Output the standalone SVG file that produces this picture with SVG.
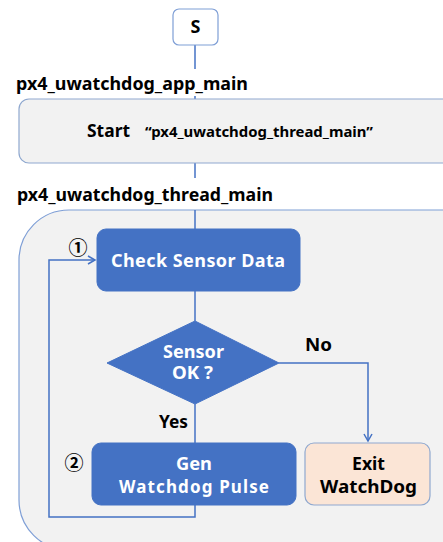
<svg xmlns="http://www.w3.org/2000/svg" width="443" height="542" viewBox="0 0 443 542">
<style>
.t{font-family:"Noto Sans","Noto Sans CJK KR",sans-serif;font-weight:bold;}
.c{font-family:"Noto Sans CJK KR",sans-serif;font-weight:bold;}
.blk{fill:#000;}
.wht{fill:#fff;}
.ln{fill:none;stroke:#4472c4;stroke-width:1.5;}
.blue{fill:#4472c4;stroke:#4472c4;}
</style>
<defs>
<marker id="ar" markerWidth="10" markerHeight="10" refX="8" refY="5" orient="auto" markerUnits="userSpaceOnUse">
<path d="M1,1 L8,5 L1,9" fill="none" stroke="#4472c4" stroke-width="1.5"/>
</marker>
</defs>
<rect width="443" height="542" fill="#fff"/>
<g id="container">
<rect x="19" y="210" width="480" height="340" rx="50" ry="50" fill="#f2f2f2" stroke="#7f9fd6" stroke-width="1.2"/>
</g>
<g id="connectors">
<line class="ln" x1="195" y1="45" x2="195" y2="69"/>
<line class="ln" x1="195" y1="96" x2="195" y2="99"/>
<line class="ln" x1="195" y1="163" x2="195" y2="178"/>
<line class="ln" x1="195" y1="210" x2="195" y2="229"/>
<line class="ln" x1="195" y1="291" x2="195" y2="321"/>
<line class="ln" x1="195" y1="404" x2="195" y2="443"/>
<polyline class="ln" points="279,363 368,363 368,441" marker-end="url(#ar)"/>
<polyline class="ln" points="195,505 195,517 49,517 49,260 95,260" marker-end="url(#ar)"/>
</g>
<g id="node-s">
<rect x="173" y="9" width="45" height="36" rx="6" fill="#fff" stroke="#7f9fd6" stroke-width="1.2"/>
<text class="t blk" x="195.5" y="33" font-size="18" text-anchor="middle">S</text>
</g>
<text class="t blk" x="16" y="90" font-size="18" textLength="232" lengthAdjust="spacingAndGlyphs">px4_uwatchdog_app_main</text>
<g id="node-start">
<rect x="19" y="99" width="480" height="64" rx="10" fill="#f2f2f2" stroke="#8fa8cf" stroke-width="1.2"/>
<text class="t blk" x="87" y="137" font-size="18" textLength="43" lengthAdjust="spacingAndGlyphs">Start</text>
<text class="t blk" x="145" y="137" font-size="15" textLength="228" lengthAdjust="spacingAndGlyphs">“px4_uwatchdog_thread_main”</text>
</g>
<text class="t blk" x="17" y="201" font-size="18" textLength="256" lengthAdjust="spacingAndGlyphs">px4_uwatchdog_thread_main</text>
<g id="node-check">
<rect class="blue" x="97" y="229" width="203" height="62" rx="9"/>
<text class="t wht" x="111" y="267" font-size="18" textLength="174" lengthAdjust="spacing">Check Sensor Data</text>
</g>
<g id="node-decision">
<polygon class="blue" points="195,321 279,363 195,404 107,363"/>
<text class="t wht" x="163" y="358" font-size="17" textLength="61" lengthAdjust="spacingAndGlyphs">Sensor</text>
<text class="t wht" x="172" y="379" font-size="17" textLength="41" lengthAdjust="spacingAndGlyphs">OK ?</text>
</g>
<text class="t blk" x="305" y="351" font-size="17" textLength="27" lengthAdjust="spacingAndGlyphs">No</text>
<text class="t blk" x="159" y="428" font-size="17" textLength="29" lengthAdjust="spacingAndGlyphs">Yes</text>
<g id="node-gen">
<rect class="blue" x="92" y="443" width="204" height="62" rx="9"/>
<text class="t wht" x="176" y="470" font-size="17" textLength="36" lengthAdjust="spacingAndGlyphs">Gen</text>
<text class="t wht" x="119" y="493" font-size="17" textLength="150" lengthAdjust="spacing">Watchdog Pulse</text>
</g>
<g id="node-exit">
<rect x="305" y="443" width="125" height="62" rx="9" fill="#fbe5d6" stroke="#8fa8cf" stroke-width="1.2"/>
<text class="t blk" x="352" y="470" font-size="17" textLength="33" lengthAdjust="spacingAndGlyphs">Exit</text>
<text class="t blk" x="320" y="493" font-size="17" textLength="97" lengthAdjust="spacingAndGlyphs">WatchDog</text>
</g>
<text class="c blk" x="78" y="255" font-size="19" text-anchor="middle">①</text>
<text class="c blk" x="74" y="470" font-size="19" text-anchor="middle">②</text>
</svg>
